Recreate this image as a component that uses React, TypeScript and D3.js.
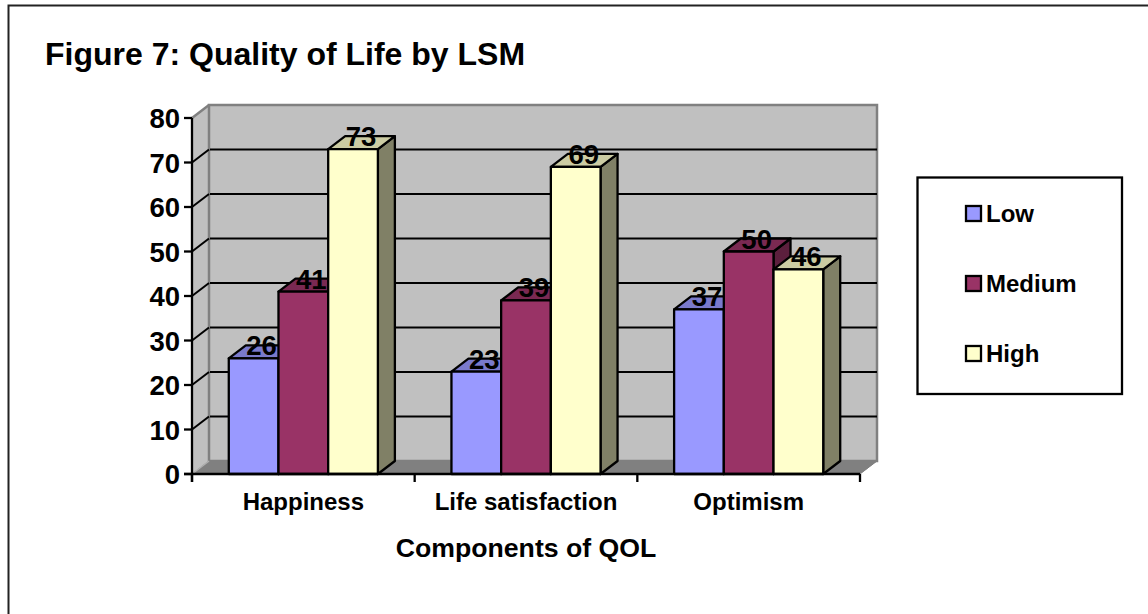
import React from "react";
import * as d3 from "d3";

const categories = ["Happiness", "Life satisfaction", "Optimism"];
const seriesNames = ["Low", "Medium", "High"];
const low = [26, 23, 37];
const medium = [41, 39, 50];
const high = [73, 69, 46];
const yTicks = [0, 10, 20, 30, 40, 50, 60, 70, 80];
const frontColors = ["#9999FF", "#993366", "#FFFFCC"];
const topColors = ["#7A7ACC", "#7A2952", "#CCCCA3"];
const sideColors = ["#5C5C99", "#5C1F3D", "#808066"];

const FONT = "'Liberation Sans', Arial, sans-serif";
const DX = 17;
const DY = -13;

export default function App() {
  const x0 = d3.scaleBand<string>().domain(categories).range([192, 860]);
  const y = d3.scaleLinear().domain([0, 80]).range([474, 118]);
  const barW = 49.7;
  const values = [low, medium, high];
  const pts = (a: number[][]) => a.map((p) => p.join(",")).join(" ");
  const base = y(0);
  const left = x0.range()[0];
  const right = x0.range()[1];

  return (
    <svg
      width={1148}
      height={614}
      style={{ position: "absolute", left: 0, top: 0, background: "#fff" }}
      fontFamily={FONT}
      fontWeight="bold"
    >
      <path d="M8.5,614V5.5H1148" fill="none" stroke="#222" strokeWidth={2} />
      <text x={45} y={65} fontSize={32}>Figure 7: Quality of Life by LSM</text>

      {/* walls */}
      <polygon
        points={pts([[left, y(80)], [left + DX, y(80) + DY], [left + DX, base + DY], [left, base]])}
        fill="#C0C0C0" stroke="none"
      />
      <polygon
        points={pts([[left, base], [left + DX, base + DY], [right + DX, base + DY], [right, base]])}
        fill="#808080" stroke="#808080" strokeWidth={1}
      />
      <polygon
        points={pts([[left + DX, y(80) + DY], [right + DX, y(80) + DY], [right + DX, base + DY], [left + DX, base + DY]])}
        fill="#C0C0C0" stroke="#808080" strokeWidth={2.5}
      />
      <polygon
        points={pts([[left, base], [left + DX, base + DY], [right + DX, base + DY], [right, base]])}
        fill="#808080"
      />
      <path d={`M${left},${y(80)}L${left + DX},${y(80) + DY}`} stroke="#808080" strokeWidth={2.5} />
      <path d={`M${left},${base}L${left + DX},${base + DY}`} stroke="#B0B0B0" strokeWidth={1.5} />
      {yTicks.filter((t) => t > 0 && t < 80).map((t) => (
        <path key={t}
          d={`M${left},${y(t)}L${left + DX},${y(t) + DY}`}
          fill="none" stroke="#000" strokeWidth={2}
        />
      ))}
      {yTicks.filter((t) => t > 0 && t < 80).map((t) => (
        <path key={"b" + t}
          d={`M${left + DX + 1},${y(t) + DY}L${right + DX},${y(t) + DY}`}
          fill="none" stroke="#000" strokeWidth={2}
        />
      ))}

      {/* bars: later series overlap earlier ones */}
      {categories.map((c, ci) => {
        const start = (x0(c) as number) + (x0.bandwidth() - barW * 3) / 2;
        return [0, 1, 2].map((si) => {
          const v = values[si][ci];
          const xa = start + si * barW;
          const xb = xa + barW;
          const yt = y(v);
          return (
            <g key={c + si} stroke="#000" strokeWidth={2.3} strokeLinejoin="round">
              <polygon points={pts([[xb, yt], [xb + DX, yt + DY], [xb + DX, base + DY], [xb, base]])} fill={sideColors[si]} />
              <polygon points={pts([[xa, yt], [xa + DX, yt + DY], [xb + DX, yt + DY], [xb, yt]])} fill={topColors[si]} />
              <rect x={xa} y={yt} width={barW} height={base - yt} fill={frontColors[si]} />
            </g>
          );
        });
      })}

      {/* axes */}
      <line x1={left} x2={left} y1={y(80)} y2={base + 8} stroke="#000" strokeWidth={2.3} />
      <line x1={left - 8} x2={right} y1={base} y2={base} stroke="#000" strokeWidth={2.5} />
      {yTicks.map((t) => (
        <g key={t}>
          <line x1={left - 8} x2={left} y1={y(t)} y2={y(t)} stroke="#000" strokeWidth={2.3} />
          <text x={180} y={y(t)} dy={10} fontSize={27.5} textAnchor="end">{t}</text>
        </g>
      ))}
      {[...categories.map((c) => x0(c) as number), right].map((p) => (
        <line key={p} x1={p} x2={p} y1={base} y2={base + 8} stroke="#000" strokeWidth={2.3} />
      ))}
      {categories.map((c) => (
        <text key={c} x={(x0(c) as number) + x0.bandwidth() / 2} y={510} fontSize={24} textAnchor="middle">{c}</text>
      ))}
      <text x={526} y={557} fontSize={26.67} textAnchor="middle">Components of QOL</text>

      {/* data labels */}
      {categories.map((c, ci) => {
        const start = (x0(c) as number) + (x0.bandwidth() - barW * 3) / 2;
        return seriesNames.map((s, si) => (
          <text key={c + s} x={start + si * barW + barW / 2 + 8} y={y(values[si][ci]) - 3} fontSize={27.5} textAnchor="middle">
            {values[si][ci]}
          </text>
        ));
      })}

      {/* legend */}
      <rect x={917.5} y={177.5} width={204.5} height={216.5} fill="#fff" stroke="#000" strokeWidth={2.3} />
      {seriesNames.map((s, i) => (
        <g key={s}>
          <rect x={966} y={206 + i * 70} width={15} height={15} fill={frontColors[i]} stroke="#000" strokeWidth={2.3} />
          <text x={986} y={222 + i * 70} fontSize={24}>{s}</text>
        </g>
      ))}
    </svg>
  );
}
